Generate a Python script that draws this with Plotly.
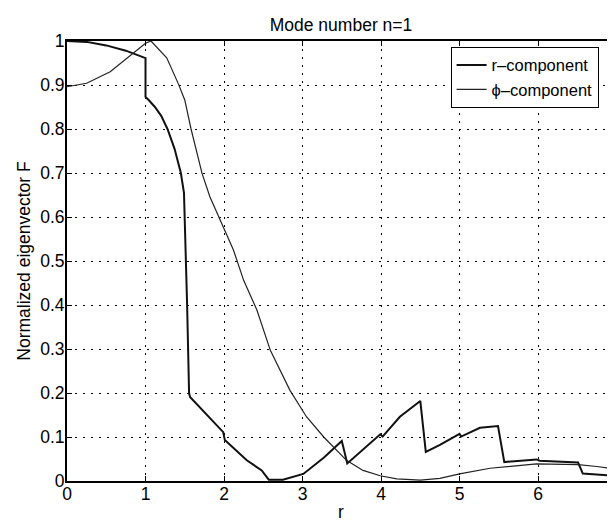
import plotly.graph_objects as go

# r-component (thick, jumpy curve)
r_x = [0, 0.25, 0.5, 0.75, 1.0, 1.0, 1.04, 1.12, 1.2, 1.28, 1.37, 1.45, 1.49, 1.5,
       1.53, 1.555, 1.567, 1.99, 2.01, 2.29, 2.48, 2.57, 2.75, 3.01, 3.27, 3.5, 3.57,
       3.99, 4.02, 4.24, 4.5, 4.57, 4.75, 5.0, 5.02, 5.26, 5.49, 5.57, 5.98, 6.02,
       6.51, 6.57, 6.98]
r_y = [1.0, 0.998, 0.99, 0.978, 0.961, 0.873, 0.866, 0.85, 0.83, 0.80, 0.755, 0.70, 0.655, 0.60,
       0.40, 0.20, 0.191, 0.111, 0.093, 0.047, 0.024, 0.003, 0.003, 0.016, 0.053, 0.091, 0.040,
       0.106, 0.101, 0.146, 0.182, 0.066, 0.082, 0.107, 0.101, 0.121, 0.125, 0.043, 0.049, 0.046,
       0.042, 0.017, 0.012]

# phi-component (thin, smooth curve)
p_x = [0, 0.25, 0.55, 0.85, 1.0, 1.07, 1.27, 1.42, 1.5, 1.58, 1.72, 1.82, 1.99, 2.12,
       2.25, 2.42, 2.59, 2.71, 2.84, 3.05, 3.27, 3.56, 3.77, 3.99, 4.2, 4.5, 4.75,
       5.0, 5.39, 5.98, 6.51, 6.75, 6.98]
p_y = [0.896, 0.904, 0.930, 0.972, 0.995, 1.0, 0.962, 0.902, 0.866, 0.8, 0.699, 0.646, 0.578, 0.525,
       0.456, 0.388, 0.297, 0.252, 0.206, 0.146, 0.100, 0.047, 0.024, 0.012, 0.005, 0.002, 0.006,
       0.016, 0.029, 0.039, 0.037, 0.033, 0.027]

x_ticks = [0, 1, 2, 3, 4, 5, 6, 7]
y_ticks = [0, 0.1, 0.2, 0.3, 0.4, 0.5, 0.6, 0.7, 0.8, 0.9, 1]
y_labels = ["0", "0.1", "0.2", "0.3", "0.4", "0.5", "0.6", "0.7", "0.8", "0.9", "1"]

FONT = "Liberation Sans, Arial, Helvetica, sans-serif"
FS = 17.5

fig = go.Figure()
fig.add_trace(go.Scatter(x=r_x, y=r_y, mode="lines", name="r\u2013component",
                         line=dict(color="#111111", width=2)))
fig.add_trace(go.Scatter(x=p_x, y=p_y, mode="lines", name="\u03d5\u2013component",
                         line=dict(color="#222222", width=1.2)))

axis_common = dict(
    showline=True, linecolor="black", linewidth=2, mirror="ticks",
    ticks="inside", ticklen=5, tickcolor="black", tickwidth=1,
    showgrid=True, gridcolor="black", gridwidth=1, griddash="2px,6px",
    zeroline=False, automargin=False,
    tickfont=dict(family=FONT, size=FS, color="black"),
)

# The page body adds an 8 px offset, so the figure is 8 px smaller each way.
fig.update_layout(
    width=607, height=514,
    margin=dict(l=59, r=0, t=33, b=41),
    paper_bgcolor="white", plot_bgcolor="white",
    font=dict(family=FONT, size=FS, color="black"),
    title=dict(text="Mode number n=1", xref="paper", x=0.5, xanchor="center",
               yref="container", y=0.967, yanchor="middle",
               font=dict(family=FONT, size=FS, color="black")),
    xaxis=dict(range=[0, 6.98], tickvals=x_ticks, ticklabelstandoff=-4,
               title=dict(text="r", standoff=6, font=dict(family=FONT, size=FS)),
               **axis_common),
    yaxis=dict(range=[0, 1], tickvals=y_ticks, ticktext=y_labels, ticklabelstandoff=-3,
               title=dict(text="Normalized eigenvector F", standoff=5, font=dict(family=FONT, size=FS)),
               **axis_common),
    legend=dict(x=0.70, y=0.987, xanchor="left", yanchor="top",
                bgcolor="white", bordercolor="black", borderwidth=1,
                font=dict(family=FONT, size=16.5, color="black"),
                tracegroupgap=0, itemwidth=30),
    showlegend=True,
)

fig.write_html("out.html")
